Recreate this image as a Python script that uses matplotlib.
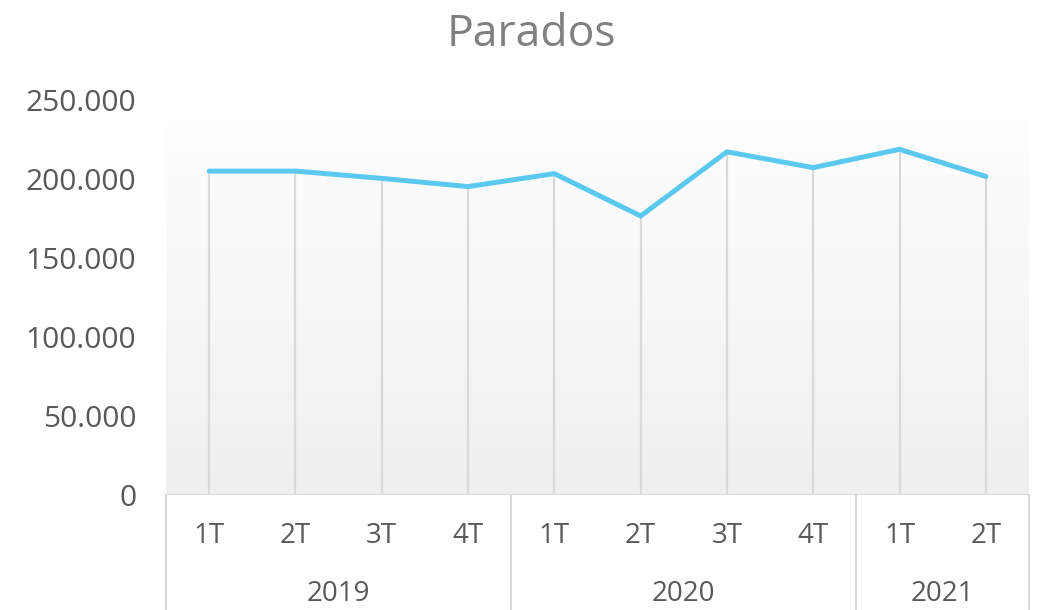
import numpy as np
import matplotlib
matplotlib.use("Agg")
import matplotlib.pyplot as plt
from matplotlib.ticker import FuncFormatter
from matplotlib.colors import LinearSegmentedColormap

plt.rcParams['font.family'] = ['Open Sans', 'DejaVu Sans']

quarters = ["1T", "2T", "3T", "4T", "1T", "2T", "3T", "4T", "1T", "2T"]
years = ["2019", "2020", "2021"]
year_counts = [4, 4, 2]
parados = [205000, 205000, 200400, 195200, 203400, 176600, 217200, 207200, 218800, 201600]
yticks = [0, 50000, 100000, 150000, 200000, 250000]

W, H = 1040, 610
fig = plt.figure(figsize=(W / 100, H / 100), dpi=100)
left, right, top, bottom = 166, 1029, 100, 495
ax = fig.add_axes([left / W, 1 - bottom / H, (right - left) / W, (bottom - top) / H])

x = np.arange(len(parados))
ax.set_xlim(-0.5, len(parados) - 0.5)
ax.set_ylim(0, 250000)

# gradient background
cmap = LinearSegmentedColormap.from_list("g", ["#efefef", "#ffffff"])
grad = np.linspace(0, 1, 256).reshape(-1, 1)
ax.imshow(grad, extent=[0, 1, 0, 1], transform=ax.transAxes, cmap=cmap,
          aspect="auto", origin="lower", zorder=0)

# drop lines
ax.vlines(x, 0, parados, colors="#d9d9d9", linewidth=1.6, zorder=1)
ax.plot(x, parados, color="#5bc9ef", linewidth=3.6, solid_capstyle="round",
        solid_joinstyle="miter", zorder=3)

for s in ax.spines.values():
    s.set_visible(False)
ax.axhline(0, color="#d9d9d9", linewidth=1.5, zorder=2)

ax.set_yticks(yticks)
ax.yaxis.set_major_formatter(FuncFormatter(lambda v, p: "0" if v == 0 else f"{int(v):,}".replace(",", ".")))
ax.tick_params(axis="y", length=0, pad=21.5, labelsize=21.5, labelcolor="#595959")
ax.set_xticks([])

# category table below axis
axh = bottom - top
y_q = (bottom - 536) / axh
y_y = (bottom - 594) / axh
y_end = (bottom - 615) / axh
trans = ax.get_xaxis_transform()
for xi, q in zip(x, quarters):
    ax.text(xi, y_q, q, transform=trans, ha="center", va="center",
            fontsize=20, color="#595959", clip_on=False)
bounds = [-0.5]
start = -0.5
for yr, c in zip(years, year_counts):
    end = start + c
    ax.text((start + end) / 2, y_y, yr, transform=trans, ha="center", va="center",
            fontsize=20, color="#595959", clip_on=False)
    bounds.append(end)
    start = end
for b in bounds:
    ax.plot([b, b], [0, y_end], transform=trans, color="#d9d9d9", linewidth=1.5,
            clip_on=False, zorder=2)

fig.text(531 / W, 1 - 35 / H, "Parados", ha="center", va="center", fontsize=32, color="#808080")

fig.savefig("out.png", dpi=100, facecolor="white")
